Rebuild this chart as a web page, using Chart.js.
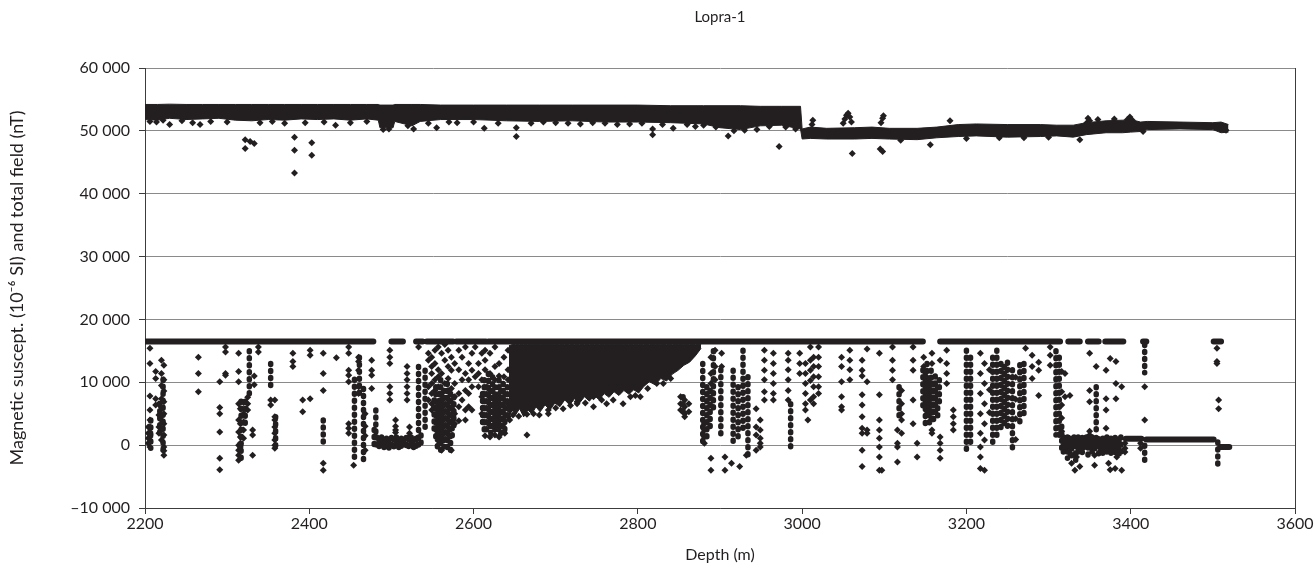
<!DOCTYPE html>
<html>
<head>
<meta charset="utf-8">
<script src="https://cdn.jsdelivr.net/npm/chart.js@4.4.1/dist/chart.umd.min.js"></script>
<style>
  html, body { margin: 0; background: #fff; }
</style>
</head>
<body>
<canvas id="chart" width="1315" height="570"></canvas>
<script>
const xTicks = [2200, 2400, 2600, 2800, 3000, 3200, 3400, 3600];
const yTicks = [-10000, 0, 10000, 20000, 30000, 40000, 50000, 60000];

// total field: dense band, [depth, upper edge, lower edge]
const fieldBand = [
  [2198, 54200, 51800], [2215, 54200, 51700], [2230, 54250, 52000], [2250, 54200, 51800],
  [2270, 54200, 51900], [2290, 54200, 52000], [2310, 54200, 51700], [2330, 54200, 51600],
  [2350, 54200, 51800], [2370, 54200, 51700], [2390, 54200, 51900], [2410, 54200, 51800],
  [2430, 54200, 51900], [2450, 54200, 51700], [2470, 54200, 51900], [2484, 54200, 51700],
  [2486, 54100, 50500], [2502, 54100, 50500], [2504, 54200, 51500], [2525, 54200, 50800],
  [2535, 54200, 51500], [2560, 54100, 51800], [2600, 54100, 51800], [2640, 54100, 51600],
  [2680, 54100, 51500], [2720, 54100, 51600], [2760, 54100, 51400], [2800, 54100, 51400],
  [2840, 54000, 51300], [2880, 54000, 51100], [2900, 54000, 50500], [2925, 54000, 50200],
  [2949, 53900, 50800], [2975, 53900, 50900], [2998, 53900, 50300], [3000, 50300, 48700],
  [3010, 50600, 48800], [3030, 50400, 48700], [3064, 50500, 48700], [3085, 50600, 48800],
  [3106, 50400, 48700], [3140, 50400, 48600], [3164, 50600, 48900], [3190, 51000, 49100],
  [3212, 51100, 49200], [3250, 51000, 49000], [3290, 51000, 49100], [3310, 50900, 49200],
  [3330, 50900, 49000], [3346, 51300, 49400], [3370, 51600, 49700], [3390, 51700, 49700],
  [3400, 51800, 49800], [3412, 51400, 49900], [3420, 51500, 50200], [3460, 51400, 50300],
  [3500, 51300, 50200], [3510, 51400, 49700], [3519, 51000, 49800]
];

// total field: single readings around and below the band, [depth, value]
const fieldPoints = [
  [2206, 51500], [2214, 51400], [2222, 51700], [2230, 51000], [2245, 51600], [2258, 51300],
  [2267, 51000], [2280, 51500], [2300, 51400], [2322, 48600], [2322, 47200], [2328, 48300],
  [2333, 48000], [2340, 51300], [2355, 51500], [2370, 51200], [2382, 49000], [2382, 46900],
  [2382, 43300], [2395, 51300], [2403, 48100], [2403, 46100], [2418, 51400], [2432, 50900],
  [2450, 51300], [2470, 51500], [2490, 50200], [2497, 50300], [2520, 50800], [2527, 50300],
  [2545, 51200], [2555, 50500], [2570, 51400], [2580, 51300], [2600, 51400], [2613, 50400],
  [2630, 51200], [2652, 49100], [2652, 50500], [2670, 51200], [2685, 51400], [2700, 51300],
  [2715, 51200], [2730, 51100], [2745, 51300], [2760, 51200], [2775, 51000], [2790, 51100],
  [2805, 51200], [2818, 49400], [2818, 50300], [2830, 51000], [2843, 50400], [2860, 51000],
  [2870, 50700], [2880, 50900], [2895, 50600], [2910, 49200], [2917, 50000], [2930, 50100],
  [2945, 50200], [2960, 50700], [2972, 47500], [2980, 50600], [2992, 50300], [3012, 51000],
  [3013, 51700], [3050, 51200], [3052, 51900], [3054, 52500], [3056, 52800], [3058, 52200],
  [3060, 51400], [3061, 46400], [3095, 47100], [3096, 51300], [3098, 52000], [3098, 46700],
  [3099, 52400], [3120, 48500], [3156, 47800], [3180, 51600], [3200, 48800], [3240, 48900],
  [3270, 48900], [3300, 49000], [3338, 48600], [3346, 51200], [3348, 52000], [3350, 51600],
  [3360, 51800], [3380, 51900], [3396, 51800], [3399, 52200], [3402, 51700], [3415, 49900],
  [3509, 50400], [3516, 50100]
];

// susceptibility: saturated and flat stretches, [from depth, to depth, value]
const suscRuns = [
  [2198, 2478, 16500], [2500, 2514, 16500], [2530, 2538, 16500], [2543, 2575, 16500],
  [2579, 2615, 16500], [2618, 3147, 16500], [3168, 3314, 16500], [3324, 3338, 16500],
  [3348, 3361, 16500], [3369, 3391, 16500], [3415, 3419, 16500], [3501, 3510, 16500],
  [3394, 3413, 1000], [3419, 3501, 900], [3509, 3520, -300]
];

// susceptibility: the dense cloud under the saturation level, [depth, upper edge, lower edge]
const suscCloud = [
  [2643, 15800, 4500], [2647, 16000, 5600], [2651, 16000, 4800], [2656, 16000, 5800],
  [2661, 16000, 4500], [2666, 16000, 5600], [2671, 16000, 5000], [2676, 16000, 6100],
  [2681, 16000, 5300], [2687, 16000, 6400], [2693, 16000, 5600], [2699, 16000, 6700],
  [2705, 16000, 6100], [2711, 16000, 7200], [2717, 16000, 6400], [2723, 16000, 7400],
  [2729, 16000, 6700], [2735, 16000, 7700], [2741, 16000, 7000], [2747, 16000, 7900],
  [2753, 16000, 7200], [2759, 16000, 8200], [2765, 16000, 7600], [2771, 16000, 8500],
  [2777, 16000, 7900], [2783, 16000, 8700], [2789, 16000, 8100], [2795, 16000, 8800],
  [2801, 16000, 8300], [2807, 16000, 9300], [2814, 16000, 10100], [2821, 16000, 9600],
  [2828, 16000, 10600], [2835, 16000, 10200], [2842, 16000, 11300], [2849, 16000, 11900],
  [2856, 16000, 12700], [2863, 16000, 13200], [2870, 16000, 14200], [2877, 16000, 15400]
];

// susceptibility: vertical chains of closely spaced readings, [depth, top, bottom]
const suscChains = [
  [2207, 4000, -500], [2218, 6600, 1900], [2222, 10500, -1000], [2317, 7000, -2400],
  [2322, 7000, 3000], [2327, 15000, 7400], [2353, 13000, 9000], [2359, 4500, -500],
  [2417, 4000, -300], [2455, 10500, -2700], [2461, 14000, 8200], [2466, 9000, -2400],
  [2481, 5600, 1500], [2533, 12500, 2000], [2541, 11900, 2400],
  [2855, 7700, 4500], [2879, 13000, 300], [2884, 9300, 800], [2888, 8700, 2100],
  [2892, 15000, 5300], [2901, 12000, 1000], [2916, 11900, -300], [2922, 9300, 1300],
  [2928, 15100, 2400], [2934, 10900, -1600], [2986, 6600, -800], [3118, 9300, 4000],
  [3200, 15100, -800], [3205, 14000, -300], [3232, 14000, 0], [3237, 15100, 800],
  [3242, 13000, 2000], [3246, 12500, 3200], [3250, 13200, 2100], [3256, 12000, -1300],
  [3265, 12800, 3400], [3270, 13000, 4500], [3309, 15000, 1600], [3313, 14000, 1300],
  [3358, 9300, 2400], [3417, 16000, 11500], [3417, 0, -3300], [3506, 500, -3700]
];
const suscPlateau = [
  [2479, 2500, -300], [2482, 1300, -500], [2485, 1000, -200], [2488, 1300, -800],
  [2491, 900, -500], [2494, 1100, -300], [2497, 800, -700], [2500, 1200, -400],
  [2503, 1000, -600], [2506, 1300, -200], [2509, 900, -500], [2512, 1100, -800],
  [2515, 800, -300], [2518, 1200, -500], [2521, 1000, -200], [2524, 1300, -600],
  [2527, 900, -400], [2530, 1100, -300], [2533, 1300, -100], [2536, 1600, 0]
];
const suscCluster2560 = [
  [2552, 7200, 2400], [2554, 9300, 800], [2556, 6600, -300], [2558, 8200, 300],
  [2560, 10400, -800], [2562, 7700, 0], [2564, 8700, -300], [2566, 6600, 500],
  [2568, 9800, -500], [2570, 7200, 800], [2572, 8200, -800], [2574, 6100, 1300],
  [2576, 7700, 2900]
];
const suscCluster2625 = [
  [2611, 8200, 3400], [2613, 10400, 2400], [2616, 9300, 1900], [2618, 11400, 2900],
  [2621, 8700, 1600], [2623, 10900, 2400], [2626, 9300, 1900], [2628, 7700, 2900],
  [2631, 10400, 2100], [2633, 8700, 1600], [2636, 9800, 2600], [2638, 8200, 1900],
  [2641, 9300, 3900]
];
const suscCluster3158 = [
  [3147, 12000, 5600], [3150, 11400, 3400], [3152, 13000, 4500], [3155, 10400, 2900],
  [3157, 11900, 4000], [3160, 9800, 3400], [3162, 11000, 5000], [3165, 9300, 3900],
  [3167, 10400, 6100]
];
const suscLow3350 = [
  [3316, 3000, -800], [3318, 1300, -1600], [3321, 800, -1100], [3323, 1300, -2100],
  [3326, 1100, -1300], [3328, 700, -1900], [3331, 1300, -900], [3333, 1000, -2400],
  [3336, 1300, -1400], [3338, 600, -1000], [3341, 1200, -1900], [3343, 900, -1200],
  [3346, 1300, -800], [3348, 800, -1600], [3351, 1100, -1000], [3353, 1300, -2000],
  [3356, 700, -1200], [3358, 1200, -900], [3361, 1000, -1500], [3363, 600, -1100],
  [3366, 1100, -1800], [3368, 900, -1000], [3371, 1300, -1400], [3373, 700, -900],
  [3376, 1100, -2100], [3378, 800, -1200], [3381, 1200, -1600], [3383, 600, -1000],
  [3386, 1000, -1500], [3388, 1300, -1200]
];

// susceptibility: single readings, [depth, [values]]
const susc2200 = [
  [2204, [2900, 1900, 1100, 300]],
  [2206, [15400, 13000, 7800, 5600, 4000, 2900, 2100, 1300, 500, -300]],
  [2213, [11700, 10600, 7400, 6400]],
  [2217, [6600, 4800, 2900, 1900]],
  [2220, [13500, 11400, 9500, 7400, 6000, 4000, 2400, 800]],
  [2223, [12700, 10400, 8600, 6900, 5000, 3400, 1600, -300, -900, -1600]],
  [2265, [14000, 11400, 8500]],
  [2291, [10100, 6000, 5000, 2100, -2100, -3900]],
  [2298, [15600, 14800, 11400, 11100]],
  [2314, [14600, 11700, 10100, 6600, 4000, 2100, 0, -800, -1600, -2400]],
  [2316, [5800, 3400, 1300, 300, -300]],
  [2320, [6800, 5000, 3700, 2400, 1100]],
  [2325, [7600, 6600, 5600]],
  [2331, [2400, 1600, -1600]],
  [2333, [11000, 9600]],
  [2338, [15600, 14800]],
  [2353, [7200, 6400]],
  [2358, [7200, 4500, 4000, 2900, 1900, 800, 0, -500]],
  [2380, [14600, 13300, 12500]],
  [2392, [7200, 5300]],
  [2401, [15100, 14300, 7400]],
  [2417, [14600, 11400, 8700, -2900, -4000]],
  [2433, [13900]],
  [2448, [15600, 14600, 11900, 11100, 10100, 3400, 2700, 1900]],
  [2454, [-3200]],
  [2460, [14000, 13300, 11900, 9300, 8200]],
  [2468, [5000, 3000, 1500, -800]],
  [2476, [13500, 11900, 11100, 9000]]
];
const susc2500 = [
  [2498, [15100, 14000, 13000, 9300, 8200, 7200]],
  [2505, [4000, 3000, 2400, 2000]],
  [2519, [12500, 11400, 10400, 9300, 8200, 7200]],
  [2522, [2900, 1900, 1400]],
  [2533, [15600]],
  [2545, [14600, 13500, 9300, 7200]],
  [2549, [14000, 12500, 11400, 9800, 8200, 6600, 5600]],
  [2553, [15100, 13000, 10400, 8700]],
  [2557, [15600, 12000, 10900, 9300]],
  [2561, [14600, 11400, 8200, -800]],
  [2565, [16000, 13500, 9800]],
  [2569, [15100, 12500, 10600, 8700]],
  [2573, [14000, 11900, 9000, -800]],
  [2577, [13000, 9800, 7700, 5000, 3400]],
  [2582, [15100, 12000, 8200, 6100, 3900]],
  [2586, [14000, 10400, 7200]],
  [2590, [15600, 11400, 8700, 5600, 4000]],
  [2594, [13000, 10400, 8200, 6100]],
  [2598, [14600, 11900, 9300, 5600]],
  [2602, [15600, 10900]],
  [2606, [13000, 11400, 9300]],
  [2610, [14600, 10400, 7700, 5000]],
  [2614, [15100, 13500, 12000, 1500]],
  [2620, [14600, 11400, 1300]],
  [2626, [15600, 12500, 10400, 1600]],
  [2631, [13000, 11000, 1300]],
  [2637, [14000, 10900, 2100]],
  [2638, [3900, 1900]],
  [2642, [15100, 12000, 10400, 6600, 4500]],
  [2644, [5500, 4000]], [2648, [4800]], [2655, [4600]], [2665, [4900, 1600]],
  [2673, [5000]], [2680, [4800]], [2691, [5600, 5000]], [2700, [5900]],
  [2709, [5800]], [2718, [6300]], [2726, [6900, 6600]], [2736, [6700]],
  [2746, [7700, 6100]], [2756, [7200]], [2762, [6600]], [2770, [7200]],
  [2782, [6600]], [2791, [7700]], [2797, [7900]], [2803, [7700]],
  [2812, [9000]], [2823, [9800]], [2831, [9800]], [2840, [10600]],
  [2852, [7700, 6600, 5600]],
  [2857, [7200, 6100, 5000, 4500]],
  [2862, [6600, 5300]],
  [2881, [3400, 2400, 1300, 300]],
  [2889, [14000, 11400, 9800, -2100, -4000]],
  [2894, [15100, 12500, 10400]]
];
const susc2900 = [
  [2902, [14600, 12500]],
  [2906, [-1900, -4000]],
  [2914, [-2900]],
  [2924, [-3400]],
  [2932, [-1600]],
  [2944, [5800, 2900, 1600, -800]],
  [2949, [4000, 2400, 1100, 300, -300]],
  [2954, [15100, 13500, 11900, 10400, 8500, 7200]],
  [2965, [14600, 13000, 11400, 9800, 8200, 7200]],
  [2983, [14600, 13500, 12000, 10400, 8700, 7200]],
  [2997, [14600, 13000, 11400]],
  [3004, [13000, 11400, 9800, 8200, 6600, 5600]],
  [3007, [4000]],
  [3010, [15600, 13500, 11900, 10300, 7200]],
  [3014, [14000, 12500, 10900, 9300, 7700, 6600]],
  [3020, [15600, 14000, 12500, 10900, 9300, 8200]],
  [3048, [14000, 12500, 10100, 7700, 6100, 5600]],
  [3058, [15100, 13500, 12000, 10400]],
  [3073, [13500, 11900, 11000, 8000, 6400, 4500, 2700, 1900, -800, -3400]],
  [3079, [15300, 10100, 2400, 1900]],
  [3094, [14600, 8000, 4000, 2400, 1100, -300, -1900, -4000]],
  [3097, [-4000]],
  [3110, [15600, 13500, 11900, 10400]],
  [3116, [2400, 300, -300, -2700]],
  [3121, [8700, 6600, 5000, 4000, 1900]],
  [3135, [15600, 13500, 11900, 7200, 3400]],
  [3140, [300, -1900]],
  [3148, [14000, 12500]],
  [3158, [14600, 13000, 2400, 1900]],
  [3168, [13500, 1300, 300, -800, -2100]],
  [3176, [15100, 13000, 11400, 9800]],
  [3184, [5600, 4500, 3400, 2400]]
];
const susc3200 = [
  [3217, [14600, 11400, 8200, 5000, 1900, -300, -1900, -3700]],
  [3222, [13000, 9800, 6600, 3400, 800, -4000]],
  [3228, [12000, 8800, 5200]],
  [3260, [10800, 7300, 4200, 900]],
  [3272, [15400]],
  [3280, [14300, 12500, 10600]],
  [3288, [13200, 11900, 7900]],
  [3302, [15600, 14300, 12700]],
  [3316, [11700, 8500, 6400, 4300, 2200]],
  [3320, [11400, 7700]],
  [3326, [7900]],
  [3328, [-2900]], [3332, [-4000]], [3334, [-1900]], [3338, [-3400]],
  [3350, [14600, 8700, 6900, 2200, 1600]],
  [3356, [-1600, -3200]],
  [3358, [12500]],
  [3370, [11900, 7400, 5600, 2700]],
  [3373, [-2900]], [3375, [13800, -3900]], [3381, [-3700]],
  [3382, [13300, 9800, 7400]],
  [3383, [-1900]],
  [3389, [9300, -4000]],
  [3393, [300, -500, -1100]],
  [3412, [300, -500]],
  [3417, [9300, 4000]],
  [3505, [15400, 13300, 13000]],
  [3507, [7200, 5800]]
];

const ink = '#231f20';
const axisColor = '#3c3c3c';
const gridColor = '#8a8a8a';
const family = 'Lato, "Open Sans", sans-serif';
const tickFont = { family, size: 16, weight: 'normal' };
const titleFont = { family, size: 15, weight: 'normal' };
const xTitleFont = { family, size: 16, weight: 'normal' };
const yTitleFont = { family, size: 18, weight: 'normal' };

function bandSets(rows) {
  const common = { showLine: true, borderWidth: 1, borderColor: ink, pointRadius: 0, tension: 0 };
  return [
    { ...common, data: rows.map(r => ({ x: r[0], y: r[1] })), fill: '+1', backgroundColor: ink },
    { ...common, data: rows.map(r => ({ x: r[0], y: r[2] })), fill: false }
  ];
}

function pointSet(data) {
  return {
    data: data, showLine: false, pointStyle: 'rectRot', pointRadius: 3.5,
    pointBackgroundColor: ink, pointBorderWidth: 0, borderColor: ink
  };
}

function strokeSet(data, width, dash) {
  return {
    data: data, showLine: true, spanGaps: false, borderWidth: width, borderColor: ink,
    borderDash: dash || [], borderCapStyle: 'round', borderJoinStyle: 'round',
    pointRadius: 0, fill: false
  };
}

function streakPoints(list) {
  const pts = [];
  list.forEach(s => s[1].forEach(v => pts.push({ x: s[0], y: v })));
  return pts;
}

// horizontal runs and vertical chains become separate strokes, split by null gaps
const runPoints = [];
suscRuns.forEach(r => {
  runPoints.push({ x: r[0], y: r[2] }, { x: r[1], y: r[2] }, { x: r[1], y: null });
});
const chainPoints = [];
[suscChains, suscPlateau, suscCluster2560, suscCluster2625, suscCluster3158, suscLow3350].forEach(list => {
  list.forEach(c => {
    chainPoints.push({ x: c[0], y: c[1] }, { x: c[0], y: c[2] }, { x: c[0], y: null });
  });
});

const datasets = [
  ...bandSets(fieldBand),
  ...bandSets(suscCloud),
  strokeSet(runPoints, 6),
  strokeSet(chainPoints, 5.5, [1, 6]),
  pointSet(fieldPoints.map(p => ({ x: p[0], y: p[1] }))),
  pointSet(streakPoints(susc2200)),
  pointSet(streakPoints(susc2500)),
  pointSet(streakPoints(susc2900)),
  pointSet(streakPoints(susc3200))
];

function fmtY(v) {
  const s = String(Math.abs(v)).replace(/\B(?=(\d{3})+(?!\d))/g, ' ');
  return v < 0 ? '\u2013' + s : s;
}

new Chart(document.getElementById('chart'), {
  type: 'line',
  data: { datasets: datasets },
  options: {
    responsive: false,
    animation: false,
    events: [],
    layout: { padding: { left: 0, right: 20, top: 0, bottom: 0 } },
    plugins: {
      legend: { display: false },
      tooltip: { enabled: false },
      title: {
        display: true, text: 'Lopra-1', color: ink, font: titleFont, fullSize: false,
        padding: { top: 8, bottom: 42 }
      }
    },
    scales: {
      x: {
        type: 'linear', min: xTicks[0], max: xTicks[xTicks.length - 1],
        afterFit: s => { s.height = 62; },
        afterBuildTicks: s => { s.ticks = xTicks.map(v => ({ value: v })); },
        ticks: { callback: v => String(v), color: ink, font: tickFont, padding: 0, maxRotation: 0, autoSkip: false },
        grid: {
          color: c => (c.tick && c.tick.value === 3600 ? axisColor : 'rgba(0,0,0,0)'),
          tickColor: axisColor, tickLength: 6
        },
        border: { color: axisColor },
        title: { display: true, text: 'Depth (m)', color: ink, font: xTitleFont, padding: { top: 0, bottom: 6 } }
      },
      y: {
        type: 'linear', min: yTicks[0], max: yTicks[yTicks.length - 1],
        afterFit: s => { s.width = 145; },
        afterBuildTicks: s => { s.ticks = yTicks.map(v => ({ value: v })); },
        ticks: { callback: fmtY, color: ink, font: tickFont, padding: 9 },
        grid: { color: gridColor, tickColor: axisColor, tickLength: 6 },
        border: { color: axisColor },
        title: {
          display: true, text: 'Magnetic suscept. (10\u207b\u2076 SI) and total field (nT)',
          color: ink, font: yTitleFont, padding: { top: 6, bottom: 0 }
        }
      }
    }
  }
});
</script>
</body>
</html>
